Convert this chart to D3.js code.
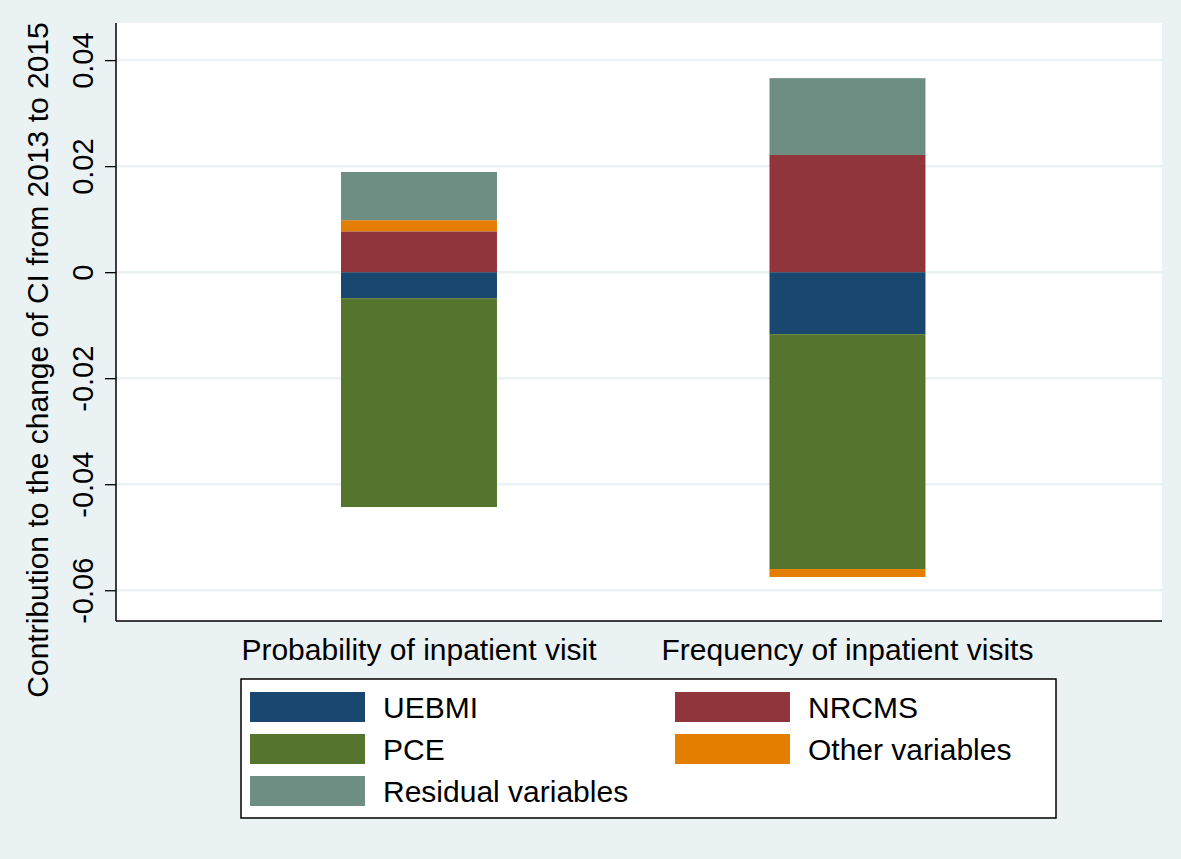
<!DOCTYPE html>
<html>
<head>
<meta charset="utf-8">
<script src="https://cdn.jsdelivr.net/npm/d3@7"></script>
<style>
  body { margin: 0; background: #eaf2f3; }
  svg { display: block; font-family: "Liberation Sans", Arial, sans-serif; }
</style>
</head>
<body>
<div id="chart"></div>
<script>
// chart data
const categories = ["Probability of inpatient visit", "Frequency of inpatient visits"];
const seriesNames = ["UEBMI", "NRCMS", "PCE", "Other variables", "Residual variables"];
const uebmi = [-0.0049, -0.0117];
const nrcms = [0.0077, 0.0221];
const pce = [-0.0394, -0.0443];
const other = [0.0021, -0.0015];
const residual = [0.0091, 0.0145];
const yTicks = [-0.06, -0.04, -0.02, 0, 0.02, 0.04];

const colors = {
  "UEBMI": "#1a476f",
  "NRCMS": "#90353b",
  "PCE": "#55752f",
  "Other variables": "#e37e00",
  "Residual variables": "#6e8e84"
};

const W = 1181, H = 859;
const plot = { left: 116, right: 1162, top: 23, bottom: 621 };

const svg = d3.select("#chart").append("svg")
  .attr("width", W).attr("height", H);

svg.append("rect").attr("width", W).attr("height", H).attr("fill", "#eaf2f3");
svg.append("rect")
  .attr("x", plot.left).attr("y", plot.top)
  .attr("width", plot.right - plot.left).attr("height", plot.bottom - plot.top)
  .attr("fill", "#ffffff");

const y = d3.scaleLinear().domain([-0.0658, 0.047]).range([plot.bottom, plot.top]);
const x = d3.scaleBand().domain(categories).range([plot.left, plot.right])
  .paddingInner(0.636).paddingOuter(0.5386).align(0.4875);

// grid lines
svg.append("g").selectAll("line").data(yTicks).join("line")
  .attr("x1", plot.left).attr("x2", plot.right)
  .attr("y1", d => y(d)).attr("y2", d => y(d))
  .attr("stroke", "#eaf2f3").attr("stroke-width", 2.5);

// stack: positives upward from 0, negatives downward, in series order
const order = [
  ["UEBMI", uebmi], ["NRCMS", nrcms], ["PCE", pce],
  ["Other variables", other], ["Residual variables", residual]
];
const segments = [];
categories.forEach((c, i) => {
  let pos = 0, neg = 0;
  order.forEach(([name, vals]) => {
    const v = vals[i];
    let y0, y1;
    if (v >= 0) { y0 = pos; y1 = pos + v; pos = y1; }
    else { y0 = neg; y1 = neg + v; neg = y1; }
    segments.push({ cat: c, name: name, y0: y0, y1: y1 });
  });
});

svg.append("g").selectAll("rect").data(segments).join("rect")
  .attr("x", d => x(d.cat))
  .attr("width", x.bandwidth())
  .attr("y", d => y(Math.max(d.y0, d.y1)))
  .attr("height", d => Math.abs(y(d.y0) - y(d.y1)))
  .attr("fill", d => colors[d.name]);

// y axis
const yAxis = svg.append("g")
  .attr("transform", `translate(${plot.left},0)`)
  .call(d3.axisLeft(y).tickValues(yTicks).tickSize(11)
    .tickFormat(d => d === 0 ? "0" : d3.format(".2f")(d).replace("\u2212", "-")));
yAxis.select(".domain").attr("d", `M0,${plot.top}V${plot.bottom}`).attr("stroke", "#000").attr("stroke-width", 1.5);
yAxis.selectAll(".tick line").attr("stroke", "#000").attr("stroke-width", 1.3);
yAxis.selectAll(".tick text")
  .attr("font-size", 29).attr("fill", "#000")
  .attr("x", 0).attr("y", 0).attr("dy", null)
  .attr("transform", "translate(-23,0) rotate(-90)")
  .attr("text-anchor", "middle");

// x axis line and labels
svg.append("line")
  .attr("x1", plot.left).attr("x2", plot.right)
  .attr("y1", plot.bottom).attr("y2", plot.bottom)
  .attr("stroke", "#000").attr("stroke-width", 1.5);
svg.append("g").selectAll("text").data(categories).join("text")
  .attr("x", d => x(d) + x.bandwidth() / 2)
  .attr("y", 660)
  .attr("text-anchor", "middle")
  .attr("font-size", 30)
  .text(d => d);

// y title
svg.append("text")
  .attr("transform", "translate(48,360) rotate(-90)")
  .attr("text-anchor", "middle")
  .attr("font-size", 30)
  .text("Contribution to the change of CI from 2013 to 2015");

// legend
const lg = svg.append("g");
lg.append("rect")
  .attr("x", 241).attr("y", 679).attr("width", 815).attr("height", 139)
  .attr("fill", "#fff").attr("stroke", "#000").attr("stroke-width", 1.5);
const legendItems = [
  { name: "UEBMI", col: 0, row: 0 },
  { name: "NRCMS", col: 1, row: 0 },
  { name: "PCE", col: 0, row: 1 },
  { name: "Other variables", col: 1, row: 1 },
  { name: "Residual variables", col: 0, row: 2 }
];
const colX = [250, 675], rowY = [692, 734, 776];
const items = lg.selectAll("g").data(legendItems).join("g")
  .attr("transform", d => `translate(${colX[d.col]},${rowY[d.row]})`);
items.append("rect").attr("width", 115).attr("height", 30).attr("fill", d => colors[d.name]);
items.append("text").attr("x", 133).attr("y", 26).attr("font-size", 30).text(d => d.name);
</script>
</body>
</html>
